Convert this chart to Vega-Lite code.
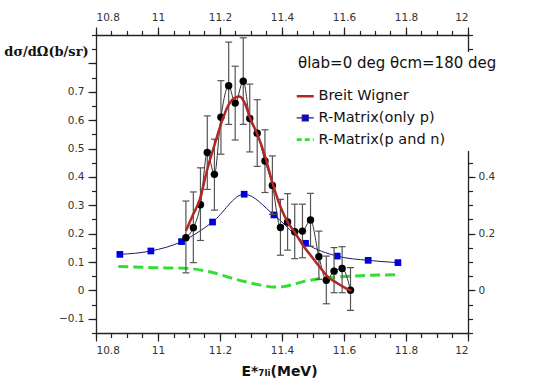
{
  "$schema": "https://vega.github.io/schema/vega-lite/v6.json",
  "width": 372,
  "height": 298,
  "autosize": {"type": "none"},
  "padding": {"left": 96, "top": 35, "right": 66, "bottom": 48},
  "background": "white",
  "config": {
    "view": {"stroke": null},
    "axis": {"domainColor": "#222", "domainWidth": 1.3, "tickColor": "#222", "tickWidth": 1.2, "labelFont": "DejaVu Sans", "labelFontSize": 10.5, "labelColor": "#333", "grid": false, "offset": 0}
  },
  "datasets": {
    "black": [
      {"x": 11.090, "y": 0.186, "lo": 0.062, "hi": 0.315},
      {"x": 11.114, "y": 0.221, "lo": 0.098, "hi": 0.347},
      {"x": 11.137, "y": 0.302, "lo": 0.176, "hi": 0.432},
      {"x": 11.159, "y": 0.486, "lo": 0.356, "hi": 0.615},
      {"x": 11.182, "y": 0.409, "lo": 0.283, "hi": 0.533},
      {"x": 11.203, "y": 0.610, "lo": 0.480, "hi": 0.739},
      {"x": 11.228, "y": 0.721, "lo": 0.585, "hi": 0.875},
      {"x": 11.249, "y": 0.660, "lo": 0.530, "hi": 0.790},
      {"x": 11.275, "y": 0.737, "lo": 0.585, "hi": 0.890},
      {"x": 11.296, "y": 0.606, "lo": 0.488, "hi": 0.727},
      {"x": 11.320, "y": 0.554, "lo": 0.437, "hi": 0.672},
      {"x": 11.345, "y": 0.456, "lo": 0.345, "hi": 0.566},
      {"x": 11.369, "y": 0.370, "lo": 0.268, "hi": 0.474},
      {"x": 11.395, "y": 0.222, "lo": 0.124, "hi": 0.321},
      {"x": 11.418, "y": 0.241, "lo": 0.142, "hi": 0.341},
      {"x": 11.441, "y": 0.207, "lo": 0.112, "hi": 0.304},
      {"x": 11.466, "y": 0.209, "lo": 0.115, "hi": 0.304},
      {"x": 11.492, "y": 0.248, "lo": 0.156, "hi": 0.342},
      {"x": 11.519, "y": 0.119, "lo": 0.039, "hi": 0.209},
      {"x": 11.543, "y": 0.036, "lo": -0.047, "hi": 0.121},
      {"x": 11.568, "y": 0.068, "lo": -0.008, "hi": 0.151},
      {"x": 11.594, "y": 0.077, "lo": -0.008, "hi": 0.154},
      {"x": 11.621, "y": 0.001, "lo": -0.070, "hi": 0.080}
    ],
    "bw": [
      {"x": 11.09, "y": 0.21, "s": "Breit Wigner"},
      {"x": 11.11, "y": 0.26, "s": "Breit Wigner"},
      {"x": 11.135, "y": 0.321, "s": "Breit Wigner"},
      {"x": 11.159, "y": 0.427, "s": "Breit Wigner"},
      {"x": 11.183, "y": 0.515, "s": "Breit Wigner"},
      {"x": 11.205, "y": 0.592, "s": "Breit Wigner"},
      {"x": 11.226, "y": 0.65, "s": "Breit Wigner"},
      {"x": 11.245, "y": 0.677, "s": "Breit Wigner"},
      {"x": 11.262, "y": 0.683, "s": "Breit Wigner"},
      {"x": 11.28, "y": 0.66, "s": "Breit Wigner"},
      {"x": 11.296, "y": 0.61, "s": "Breit Wigner"},
      {"x": 11.32, "y": 0.551, "s": "Breit Wigner"},
      {"x": 11.345, "y": 0.474, "s": "Breit Wigner"},
      {"x": 11.369, "y": 0.38, "s": "Breit Wigner"},
      {"x": 11.395, "y": 0.295, "s": "Breit Wigner"},
      {"x": 11.42, "y": 0.238, "s": "Breit Wigner"},
      {"x": 11.441, "y": 0.205, "s": "Breit Wigner"},
      {"x": 11.468, "y": 0.158, "s": "Breit Wigner"},
      {"x": 11.495, "y": 0.12, "s": "Breit Wigner"},
      {"x": 11.522, "y": 0.082, "s": "Breit Wigner"},
      {"x": 11.549, "y": 0.047, "s": "Breit Wigner"},
      {"x": 11.576, "y": 0.027, "s": "Breit Wigner"},
      {"x": 11.602, "y": 0.01, "s": "Breit Wigner"},
      {"x": 11.624, "y": -0.002, "s": "Breit Wigner"}
    ],
    "rp": [
      {"x": 10.877, "y": 0.127},
      {"x": 10.977, "y": 0.139},
      {"x": 11.076, "y": 0.172},
      {"x": 11.176, "y": 0.241},
      {"x": 11.278, "y": 0.339},
      {"x": 11.374, "y": 0.266},
      {"x": 11.476, "y": 0.166},
      {"x": 11.578, "y": 0.121},
      {"x": 11.678, "y": 0.106},
      {"x": 11.774, "y": 0.098}
    ],
    "rpn": [
      {"x": 10.872, "y": 0.084, "s": "R-Matrix(p and n)"},
      {"x": 10.95, "y": 0.082, "s": "R-Matrix(p and n)"},
      {"x": 10.996, "y": 0.080, "s": "R-Matrix(p and n)"},
      {"x": 11.05, "y": 0.079, "s": "R-Matrix(p and n)"},
      {"x": 11.103, "y": 0.077, "s": "R-Matrix(p and n)"},
      {"x": 11.157, "y": 0.068, "s": "R-Matrix(p and n)"},
      {"x": 11.2, "y": 0.056, "s": "R-Matrix(p and n)"},
      {"x": 11.232, "y": 0.045, "s": "R-Matrix(p and n)"},
      {"x": 11.296, "y": 0.027, "s": "R-Matrix(p and n)"},
      {"x": 11.34, "y": 0.017, "s": "R-Matrix(p and n)"},
      {"x": 11.371, "y": 0.012, "s": "R-Matrix(p and n)"},
      {"x": 11.4, "y": 0.013, "s": "R-Matrix(p and n)"},
      {"x": 11.425, "y": 0.018, "s": "R-Matrix(p and n)"},
      {"x": 11.468, "y": 0.031, "s": "R-Matrix(p and n)"},
      {"x": 11.52, "y": 0.041, "s": "R-Matrix(p and n)"},
      {"x": 11.576, "y": 0.047, "s": "R-Matrix(p and n)"},
      {"x": 11.683, "y": 0.053, "s": "R-Matrix(p and n)"},
      {"x": 11.78, "y": 0.056, "s": "R-Matrix(p and n)"}
    ]
  },
  "resolve": {"axis": {"x": "independent", "y": "independent"}},
  "layer": [
    {
      "data": {"name": "rpn"},
      "mark": {"type": "line", "strokeWidth": 3, "strokeDash": [10, 5], "interpolate": "monotone"},
      "encoding": {
        "x": {"field": "x", "type": "quantitative", "scale": {"domain": [10.8, 12], "nice": false, "zero": false},
          "axis": {"orient": "bottom", "values": [10.8, 11, 11.2, 11.4, 11.6, 11.8, 12], "format": "~g", "tickSize": 8, "labelPadding": 4,
            "title": "E*₇ₗᵢ(MeV)", "titleFont": "DejaVu Sans", "titleFontWeight": "bold", "titleFontSize": 14, "titleColor": "#111",
            "titleX": 183, "titleY": 42, "titleBaseline": "alphabetic", "titleAlign": "center"}},
        "y": {"field": "y", "type": "quantitative", "scale": {"domain": [-0.15, 0.9], "nice": false, "zero": false},
          "axis": {"orient": "left", "values": [-0.1, 0, 0.1, 0.2, 0.3, 0.4, 0.5, 0.6, 0.7, 0.8], "format": "~g",
            "labelExpr": "datum.value > 0.75 ? '' : datum.label", "tickSize": 8, "labelPadding": 4,
            "title": "dσ/dΩ(b/sr)", "titleAngle": 0, "titleX": -50, "titleY": 16, "titleAlign": "center", "titleBaseline": "middle",
            "titleFont": "DejaVu Serif", "titleFontWeight": "bold", "titleFontSize": 13, "titleColor": "#111"}},
        "color": {"field": "s", "type": "nominal",
          "scale": {"domain": ["Breit Wigner", "R-Matrix(only p)", "R-Matrix(p and n)"], "range": ["#b02828", "#1c1c90", "#33dd33"]},
          "legend": {"title": "θlab=0 deg  θcm=180 deg", "orient": "none", "legendX": 198, "legendY": 17, "fillColor": "white", "padding": 4,
            "titleFont": "DejaVu Sans", "titleFontSize": 15, "titleFontWeight": "normal", "titleColor": "#111", "titlePadding": 18, "titleLimit": 400,
            "labelFont": "DejaVu Sans", "labelFontSize": 14.5, "labelColor": "#111", "labelOffset": 6, "labelLimit": 300,
            "symbolSize": 289, "symbolStrokeWidth": 2.5, "symbolType": "stroke", "rowPadding": 6.7,
            "encode": {"symbols": {"update": {
              "shape": {"signal": "datum.value === 'R-Matrix(only p)' ? 'M-1,0H1M-0.35,-0.35H0.35V0.35H-0.35Z' : 'stroke'"},
              "fill": {"signal": "datum.value === 'R-Matrix(only p)' ? '#0000dd' : 'transparent'"},
              "strokeDash": {"signal": "datum.value === 'R-Matrix(p and n)' ? [5, 3] : [1, 0]"},
              "strokeWidth": {"signal": "datum.value === 'R-Matrix(only p)' ? 1.2 : 2.6"}
            }}}}}
      }
    },
    {
      "data": {"name": "rp"},
      "mark": {"type": "line", "stroke": "#1c1c70", "strokeWidth": 1, "interpolate": "monotone"},
      "encoding": {
        "x": {"field": "x", "type": "quantitative", "axis": {"orient": "top", "values": [10.8, 11, 11.2, 11.4, 11.6, 11.8, 12], "format": "~g", "tickSize": 8, "labelPadding": 5, "title": null}},
        "y": {"field": "y", "type": "quantitative", "axis": {"orient": "right", "values": [0, 0.2, 0.4], "format": "~g", "tickSize": 7, "labelPadding": 3, "title": null}}
      }
    },
    {
      "data": {"name": "rp"},
      "mark": {"type": "point", "shape": "square", "filled": true, "size": 45, "color": "#0000dd", "opacity": 1},
      "encoding": {
        "x": {"field": "x", "type": "quantitative", "axis": {"orient": "bottom", "values": [10.8, 10.85, 10.9, 10.95, 11, 11.05, 11.1, 11.15, 11.2, 11.25, 11.3, 11.35, 11.4, 11.45, 11.5, 11.55, 11.6, 11.65, 11.7, 11.75, 11.8, 11.85, 11.9, 11.95, 12], "tickSize": 4.5, "labels": false, "domain": false, "title": null}},
        "y": {"field": "y", "type": "quantitative", "axis": {"orient": "left", "values": [-0.15, -0.1, -0.05, 0, 0.05, 0.1, 0.15, 0.2, 0.25, 0.3, 0.35, 0.4, 0.45, 0.5, 0.55, 0.6, 0.65, 0.7, 0.75, 0.8, 0.85, 0.9], "tickSize": 4.5, "labels": false, "domain": false, "title": null}}
      }
    },
    {
      "data": {"name": "black"},
      "mark": {"type": "rule", "color": "#555", "strokeWidth": 1.2},
      "encoding": {
        "x": {"field": "x", "type": "quantitative", "axis": null},
        "y": {"field": "lo", "type": "quantitative", "axis": null},
        "y2": {"field": "hi"}
      }
    },
    {
      "data": {"name": "black"},
      "mark": {"type": "tick", "orient": "horizontal", "color": "#555", "size": 7, "thickness": 1.2, "opacity": 1},
      "encoding": {
        "x": {"field": "x", "type": "quantitative", "axis": null},
        "y": {"field": "lo", "type": "quantitative", "axis": null}
      }
    },
    {
      "data": {"name": "black"},
      "mark": {"type": "tick", "orient": "horizontal", "color": "#555", "size": 7, "thickness": 1.2, "opacity": 1},
      "encoding": {
        "x": {"field": "x", "type": "quantitative", "axis": null},
        "y": {"field": "hi", "type": "quantitative", "axis": null}
      }
    },
    {
      "data": {"name": "black"},
      "mark": {"type": "line", "stroke": "#333", "strokeWidth": 1, "interpolate": "monotone"},
      "encoding": {
        "x": {"field": "x", "type": "quantitative", "axis": null},
        "y": {"field": "y", "type": "quantitative", "axis": null}
      }
    },
    {
      "data": {"name": "black"},
      "mark": {"type": "point", "shape": "circle", "filled": true, "size": 55, "color": "#000", "opacity": 1},
      "encoding": {
        "x": {"field": "x", "type": "quantitative", "axis": null},
        "y": {"field": "y", "type": "quantitative", "axis": null}
      }
    },
    {
      "data": {"name": "bw"},
      "mark": {"type": "line", "strokeWidth": 2.5, "interpolate": "monotone"},
      "encoding": {
        "x": {"field": "x", "type": "quantitative", "axis": {"orient": "top", "values": [10.8, 10.85, 10.9, 10.95, 11, 11.05, 11.1, 11.15, 11.2, 11.25, 11.3, 11.35, 11.4, 11.45, 11.5, 11.55, 11.6, 11.65, 11.7, 11.75, 11.8, 11.85, 11.9, 11.95, 12], "tickSize": 4.5, "labels": false, "domain": false, "title": null}},
        "y": {"field": "y", "type": "quantitative", "axis": {"orient": "right", "values": [-0.15, -0.1, -0.05, 0, 0.05, 0.1, 0.15, 0.2, 0.25, 0.3, 0.35, 0.4, 0.45, 0.5, 0.55, 0.6, 0.65, 0.7, 0.75, 0.8, 0.85, 0.9], "tickSize": 4.5, "labels": false, "domain": false, "title": null}},
        "color": {"field": "s", "type": "nominal"}
      }
    }
  ]
}
